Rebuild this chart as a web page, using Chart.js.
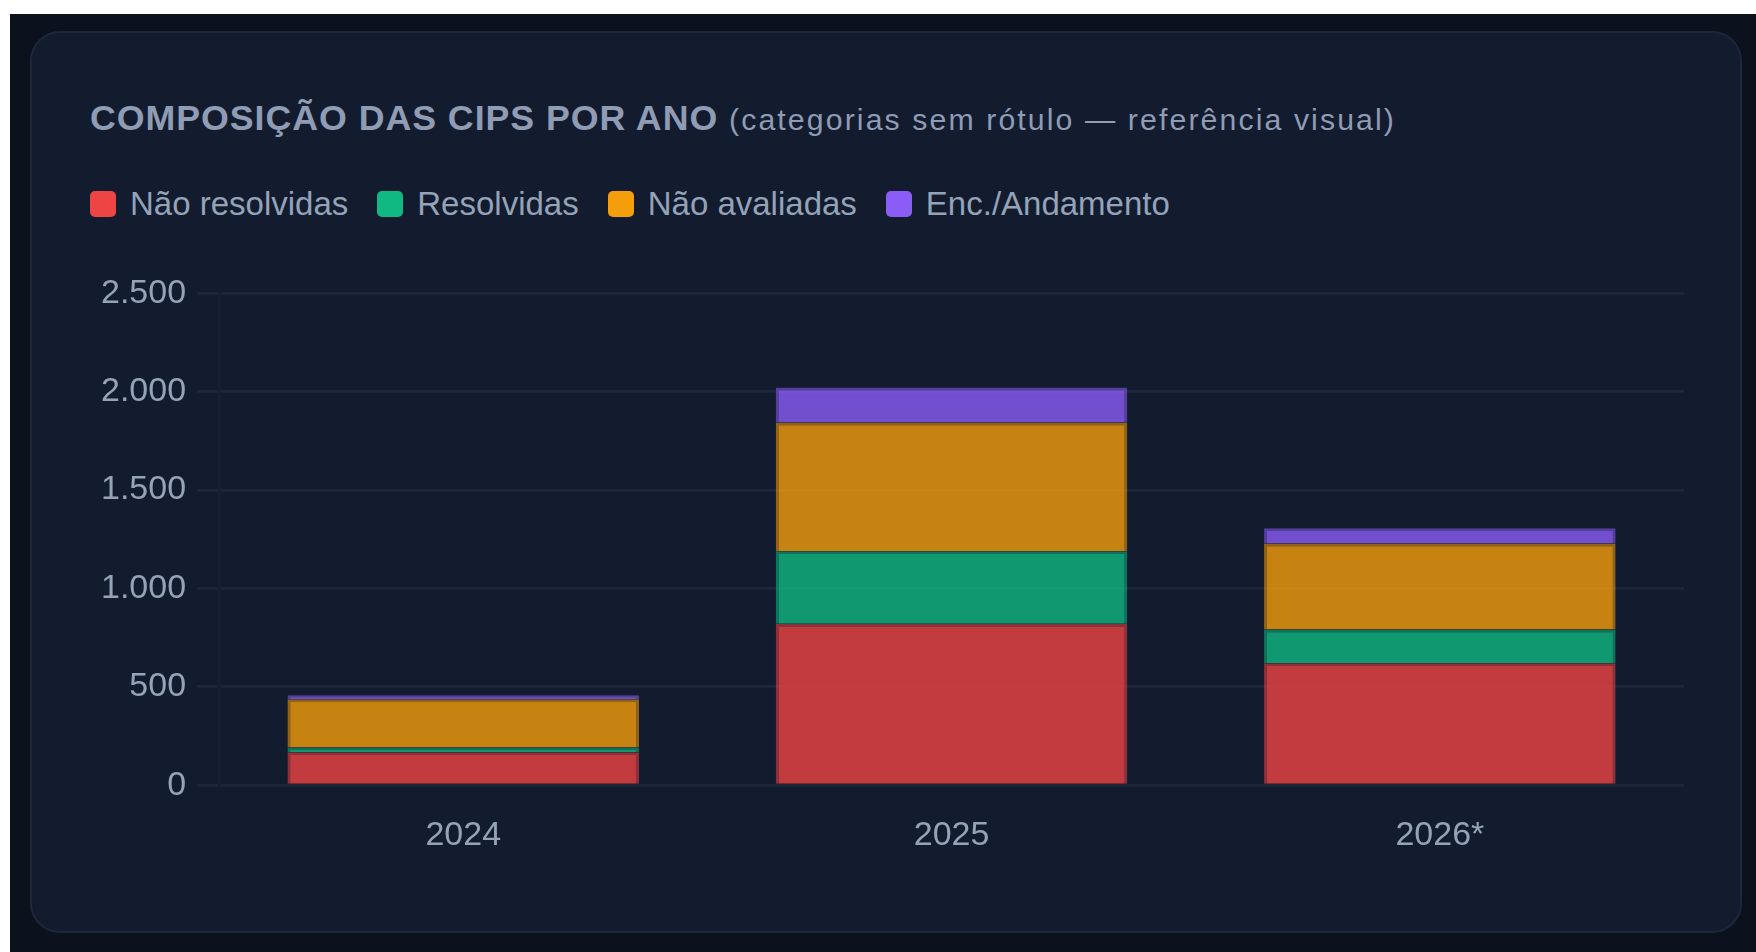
<!DOCTYPE html>
<html lang="pt-BR">
<head>
<meta charset="utf-8">
<title>Composição das CIPs por ano</title>
<script src="https://cdn.jsdelivr.net/npm/chart.js@4.4.1/dist/chart.umd.min.js"></script>
<style>
  html, body { margin: 0; padding: 0; width: 1756px; height: 952px; overflow: hidden; background: #ffffff; }
  body { font-family: 'Liberation Sans', Arial, sans-serif; }
  .page { position: absolute; left: 10px; top: 14px; right: 0; bottom: 0; background: #0c111e; }
  .card {
    position: absolute; left: 20px; top: 17px; width: 1712px; height: 902px;
    box-sizing: border-box; background: #131b2e;
    border: 2px solid #1e2739; border-radius: 30px;
  }
  .card-title {
    position: absolute; left: 58px; top: 68px; margin: 0;
    font-size: 35.75px; font-weight: 700; line-height: 1; letter-spacing: 0.95px;
    color: #8f9cb4; white-space: nowrap;
  }
  .card-title span { font-size: 30.25px; font-weight: 400; letter-spacing: 2.1px; }
  .legend {
    position: absolute; left: 58px; top: 154px; display: flex; align-items: center;
    font-size: 33px; line-height: 1; color: #94a3b8; white-space: nowrap;
  }
  .legend-item { display: flex; align-items: center; margin-right: 29px; }
  .legend-box { width: 26px; height: 26px; border-radius: 5px; margin-right: 14px; }
  .chart-wrap { position: absolute; left: 58px; top: 229px; width: 1594px; height: 602px; }
</style>
</head>
<body>
<div class="page">
  <div class="card">
    <h3 class="card-title">COMPOSIÇÃO DAS CIPS POR ANO <span>(categorias sem rótulo — referência visual)</span></h3>
    <div class="legend" id="legend"></div>
    <div class="chart-wrap"><canvas id="cipsChart"></canvas></div>
  </div>
</div>
<script>
// Dados (quantidade de CIPs por ano)
var anos = ['2024', '2025', '2026*'];
var naoResolvidas = [168, 821, 620];
var resolvidas = [24, 368, 172];
var naoAvaliadas = [245, 655, 437];
var encAndamento = [20, 178, 77];

var seriesNomes = ['Não resolvidas', 'Resolvidas', 'Não avaliadas', 'Enc./Andamento'];
var seriesRgb = ['239,68,68', '16,185,129', '245,158,11', '139,92,246'];
var seriesDados = [naoResolvidas, resolvidas, naoAvaliadas, encAndamento];

var TEXT_COLOR = '#94a3b8';
var GRID_COLOR = 'rgba(148,163,184,0.09)';

Chart.defaults.font.family = "'Liberation Sans', Arial, sans-serif";
Chart.defaults.color = TEXT_COLOR;
Chart.defaults.borderColor = GRID_COLOR;

var datasets = seriesNomes.map(function(nome, i) {
  return {
    label: nome,
    data: seriesDados[i],
    backgroundColor: 'rgba(' + seriesRgb[i] + ',0.8)',
    borderColor: 'rgba(' + seriesRgb[i] + ',0.55)',
    borderWidth: 2.75,
    _legendColor: 'rgb(' + seriesRgb[i] + ')'
  };
});

// Legenda em HTML, montada a partir dos datasets
var legendEl = document.getElementById('legend');
datasets.forEach(function(ds) {
  var item = document.createElement('div');
  item.className = 'legend-item';
  var box = document.createElement('span');
  box.className = 'legend-box';
  box.style.background = ds._legendColor;
  var txt = document.createElement('span');
  txt.textContent = ds.label;
  item.appendChild(box);
  item.appendChild(txt);
  legendEl.appendChild(item);
});

new Chart(document.getElementById('cipsChart').getContext('2d'), {
  type: 'bar',
  data: { labels: anos, datasets: datasets },
  options: {
    responsive: true,
    maintainAspectRatio: false,
    animation: false,
    locale: 'pt-BR',
    layout: { padding: 0 },
    datasets: { bar: { barPercentage: 0.8, categoryPercentage: 0.9 } },
    plugins: {
      legend: { display: false },
      tooltip: { mode: 'index', intersect: false }
    },
    scales: {
      x: {
        stacked: true,
        grid: { color: 'transparent', tickLength: 22, lineWidth: 2.75 },
        border: { display: false },
        ticks: { color: TEXT_COLOR, font: { size: 34 }, padding: 8 }
      },
      y: {
        stacked: true,
        min: 0,
        max: 2500,
        ticks: { stepSize: 500, color: TEXT_COLOR, font: { size: 34 }, padding: 11 },
        grid: { color: GRID_COLOR, lineWidth: 2.75, tickLength: 22 },
        border: { color: 'rgba(148,163,184,0.04)', width: 2.75 }
      }
    }
  }
});
</script>
</body>
</html>
